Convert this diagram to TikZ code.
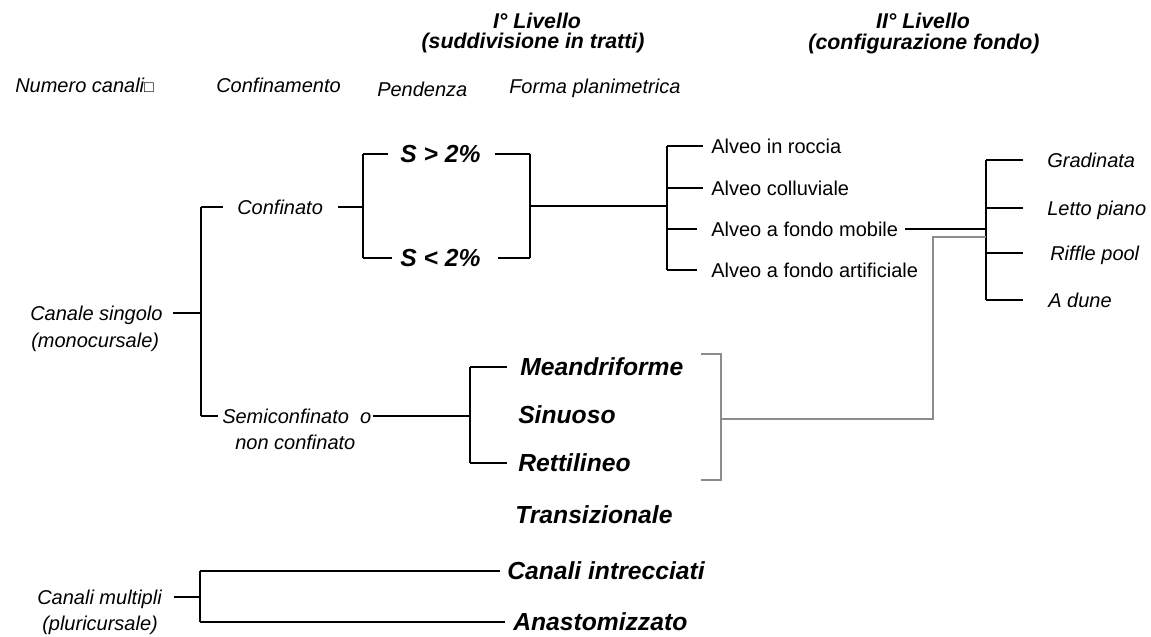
\documentclass[tikz,border=0pt]{standalone}
\usepackage{fontspec}
\setmainfont{Liberation Sans}
\usetikzlibrary{calc}
\begin{document}
\begin{tikzpicture}[x=0.75pt,y=-0.75pt,
  lab/.style={inner sep=0pt, anchor=west, font=\fontsize{15}{18}\selectfont\itshape, text height=10.5pt, text depth=0pt},
  alv/.style={inner sep=0pt, anchor=west, font=\fontsize{15}{18}\selectfont, text height=10.5pt, text depth=0pt},
  big/.style={inner sep=0pt, anchor=west, font=\fontsize{18.5}{22}\selectfont\bfseries\itshape, text height=13pt, text depth=0pt},
  head/.style={inner sep=0pt, anchor=center, font=\fontsize{16}{19}\selectfont\bfseries\itshape, text height=11.5pt, text depth=0pt},
  ln/.style={line width=1pt, black},
  gln/.style={line width=0.8pt, black!45}]
\path[use as bounding box] (0,0) rectangle (1151,636);

% headers
\node[head] (h1a) at (537,21) {I° Livello};
\node[head] (h1b) at (533,41) {(suddivisione in tratti)};
\node[head] (h2a) at (923,21) {II° Livello};
\node[head] (h2b) at (924,42) {(configurazione fondo)};

% column titles
\node[lab] (c1) at (15,85) {Numero canali{\upshape\fontsize{12}{12}\selectfont □}};
\node[lab] (c2) at (216,85) {Confinamento};
\node[lab] (c3) at (377,89) {Pendenza};
\node[lab] (c4) at (509,86) {Forma planimetrica};

% level 1 nodes
\node[lab] (cs) at (30,313) {Canale singolo};
\node[lab] (csb) at (31,340) {(monocursale)};
\node[lab] (cm) at (37,597) {Canali multipli};
\node[lab] (cmb) at (42,623) {(pluricursale)};

\node[lab] (conf) at (237,207) {Confinato};
\node[lab] (semi) at (222,416) {Semiconfinato\ \ o};
\node[lab] (semib) at (235,442) {non confinato};

\node[big] (sg) at (400,154) {S > 2\%};
\node[big] (sl) at (400,258) {S < 2\%};

\node[alv] (a1) at (711,146) {Alveo in roccia};
\node[alv] (a2) at (711,188) {Alveo colluviale};
\node[alv] (a3) at (711,229) {Alveo a fondo mobile};
\node[alv] (a4) at (711,270) {Alveo a fondo artificiale};

\node[lab] (g1) at (1047,160) {Gradinata};
\node[lab] (g2) at (1047,208) {Letto piano};
\node[lab] (g3) at (1050,253) {Riffle pool};
\node[lab] (g4) at (1048,300) {A dune};

\node[big] (m1) at (520,367) {Meandriforme};
\node[big] (m2) at (518,415) {Sinuoso};
\node[big] (m3) at (518,463) {Rettilineo};
\node[big] (tr) at (515,515) {Transizionale};
\node[big] (ci) at (507,571) {Canali intrecciati};
\node[big] (an) at (513,622) {Anastomizzato};

% junction coordinates
\coordinate (v1t) at (201,207);
\coordinate (v1m) at (201,313);
\coordinate (v1b) at (201,416);
\coordinate (v2t) at (363,154);
\coordinate (v2m) at (363,207);
\coordinate (v2b) at (363,258);
\coordinate (v3t) at (530,154);
\coordinate (v3m) at (530,206);
\coordinate (v3b) at (530,258);
\coordinate (v4t) at (667,146);
\coordinate (v4m) at (667,206);
\coordinate (v4b) at (667,270);
\coordinate (v5t) at (986,160);
\coordinate (v5m) at (986,229);
\coordinate (v5g) at (986,237);
\coordinate (v5b) at (986,300);
\coordinate (v6t) at (470,367);
\coordinate (v6m) at (470,416);
\coordinate (v6b) at (470,463);
\coordinate (gbt) at (721,354);
\coordinate (gbm) at (721,419);
\coordinate (gbb) at (721,480);
\coordinate (gbtl) at (701,354);
\coordinate (gbbl) at (701,480);
\coordinate (gx) at (933,419);
\coordinate (v7t) at (200,571);
\coordinate (v7m) at (200,597);
\coordinate (v7b) at (200,622);

% canale singolo
\draw[ln] ($(cs.east)+(10,0)$) -- (v1m);
\draw[ln] (v1t) -- (v1b);
\draw[ln] (v1t) -- ($(conf.west)+(-14,0)$);
\draw[ln] (v1b) -- ($(semi.west)+(-4,0)$);

% confinato -> pendenza
\draw[ln] ($(conf.east)+(15,0)$) -- (v2m);
\draw[ln] (v2t) -- (v2b);
\draw[ln] (v2t) -- ($(sg.west)+(-12,0)$);
\draw[ln] (v2b) -- ($(sl.west)+(-8,0)$);
\draw[ln] ($(sg.east)+(14,0)$) -- (v3t);
\draw[ln] ($(sl.east)+(17,0)$) -- (v3b);
\draw[ln] (v3t) -- (v3b);
\draw[ln] (v3m) -- (v4m);

% alveo
\draw[ln] (v4t) -- (v4b);
\draw[ln] (v4t) -- ($(a1.west)+(-8,0)$);
\draw[ln] (a2.west -| v4t) -- ($(a2.west)+(-8,0)$);
\draw[ln] (a3.west -| v4t) -- ($(a3.west)+(-14,0)$);
\draw[ln] (v4b) -- ($(a4.west)+(-14,0)$);
\draw[ln] ($(a3.east)+(7,0)$) -- (v5m);

% II livello
\draw[ln] (v5t) -- (v5b);
\draw[ln] (v5t) -- ($(g1.west)+(-24,0)$);
\draw[ln] (g2.west -| v5t) -- ($(g2.west)+(-24,0)$);
\draw[ln] (g3.west -| v5t) -- ($(g3.west)+(-27,0)$);
\draw[ln] (v5b) -- ($(g4.west)+(-25,0)$);

% semiconfinato
\draw[ln] ($(semi.east)+(1,0)$) -- (v6m);
\draw[ln] (v6t) -- (v6b);
\draw[ln] (v6t) -- ($(m1.west)+(-13,0)$);
\draw[ln] (v6b) -- ($(m3.west)+(-11,0)$);

% gray bracket
\draw[gln] (gbtl) -- (gbt) -- (gbb) -- (gbbl);
\draw[gln] (gbm) -- (gx) |- (v5g);

% canali multipli
\draw[ln] ($(cm.east)+(12,0)$) -- (v7m);
\draw[ln] (v7t) -- (v7b);
\draw[ln] (v7t) -- ($(ci.west)+(-7,0)$);
\draw[ln] (v7b) -- ($(an.west)+(-8,0)$);
\end{tikzpicture}
\end{document}
